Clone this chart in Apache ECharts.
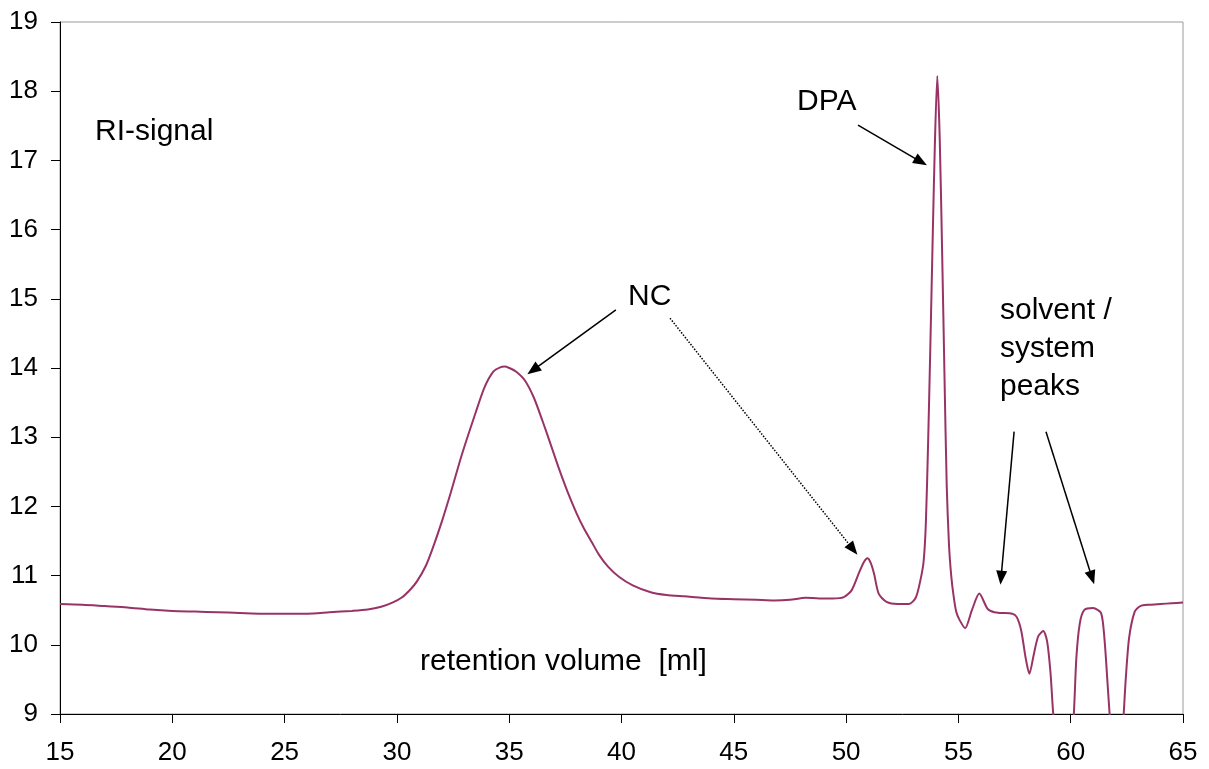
<!DOCTYPE html>
<html>
<head>
<meta charset="utf-8">
<script src="https://cdn.jsdelivr.net/npm/echarts@6/dist/echarts.min.js"></script>
<style>
html,body{margin:0;padding:0;background:#fff;}
#chart{width:1209px;height:769px;}
</style>
</head>
<body>
<div id="chart"></div>
<script>
// retention volume [ml]
const volume = [15, 16, 17, 18, 19, 20, 21, 22, 23, 24, 25, 26, 27, 28, 28.7, 29.3, 29.8, 30.2, 30.6, 30.9, 31.3, 31.6, 32.0, 32.4, 32.8, 33.1, 33.5, 33.9, 34.3, 34.6, 34.8, 35.0, 35.3, 35.7, 36.1, 36.5, 36.8, 37.2, 37.6, 38.0, 38.3, 38.7, 39.0, 39.4, 39.9, 40.5, 41.3, 42.0, 42.8, 44.0, 45.0, 46.0, 46.8, 47.5, 48.2, 48.8, 49.4, 49.9, 50.25, 50.6, 50.8, 50.95, 51.1, 51.25, 51.45, 51.8, 52.3, 52.8, 53.1, 53.3, 53.45, 53.55, 53.65, 53.75, 53.85, 53.95, 54.06, 54.17, 54.28, 54.38, 54.48, 54.58, 54.68, 54.78, 54.9, 55.05, 55.3, 55.6, 55.93, 56.3, 56.6, 56.9, 57.4, 57.6, 57.8, 58.0, 58.16, 58.35, 58.55, 58.78, 58.95, 59.1, 59.25, 59.7, 60.1, 60.25, 60.4, 60.6, 61.0, 61.35, 61.5, 61.65, 61.8, 62.05, 62.3, 62.45, 62.6, 62.85, 63.1, 63.5, 64.0, 64.5, 65];
// RI-signal
const signal = [10.59, 10.58, 10.56, 10.54, 10.51, 10.49, 10.48, 10.47, 10.46, 10.45, 10.45, 10.45, 10.47, 10.49, 10.51, 10.55, 10.61, 10.68, 10.8, 10.92, 11.15, 11.4, 11.78, 12.2, 12.65, 12.96, 13.35, 13.72, 13.95, 14.01, 14.02, 14.0, 13.95, 13.82, 13.57, 13.22, 12.94, 12.56, 12.21, 11.9, 11.7, 11.47, 11.3, 11.13, 10.98, 10.86, 10.76, 10.72, 10.7, 10.67, 10.66, 10.65, 10.64, 10.65, 10.68, 10.67, 10.67, 10.69, 10.79, 11.06, 11.2, 11.25, 11.18, 11.02, 10.74, 10.62, 10.59, 10.59, 10.68, 10.92, 11.2, 11.75, 12.9, 14.3, 15.8, 17.2, 18.22, 17.3, 15.6, 13.9, 12.3, 11.45, 11.0, 10.72, 10.48, 10.36, 10.24, 10.5, 10.74, 10.52, 10.47, 10.46, 10.45, 10.4, 10.2, 9.8, 9.58, 9.85, 10.12, 10.2, 10.05, 9.6, 8.9, 7.8, 8.8, 9.8, 10.3, 10.5, 10.53, 10.46, 10.1, 9.4, 8.7, 7.9, 8.7, 9.5, 10.1, 10.48, 10.56, 10.58, 10.59, 10.6, 10.61];

const xTicks = [15, 20, 25, 30, 35, 40, 45, 50, 55, 60, 65];
const yTicks = [9, 10, 11, 12, 13, 14, 15, 16, 17, 18, 19];

// annotation arrows: [fromX, fromY, toX, toY, dotted]
const arrowDPA = [50.53, 17.51, 53.33, 16.98, 0];
const arrowNC1 = [39.75, 14.84, 36.06, 13.97, 0];
const arrowNC2 = [42.16, 14.72, 50.31, 11.38, 1];
const arrowSolv1 = [57.48, 13.08, 56.90, 10.97, 0];
const arrowSolv2 = [58.90, 13.08, 60.95, 10.97, 0];
const arrows = [arrowDPA, arrowNC1, arrowNC2, arrowSolv1, arrowSolv2];

const points = volume.map((v, i) => [v, signal[i]]);
const FONT = '"Liberation Sans", Arial, sans-serif';
const ANN = '30px ' + FONT;

const chart = echarts.init(document.getElementById('chart'));
chart.setOption({
  animation: false,
  backgroundColor: '#fff',
  grid: {left: 60, right: 26, top: 22, bottom: 55, show: true, borderColor: '#9a9a9a', borderWidth: 1},
  xAxis: {
    type: 'value', min: xTicks[0], max: xTicks[xTicks.length - 1], interval: 5,
    axisLine: {lineStyle: {color: '#000', width: 1}},
    axisTick: {show: true, inside: false, length: 9, lineStyle: {color: '#000'}},
    axisLabel: {color: '#000', fontSize: 26, fontFamily: FONT, margin: 26},
    splitLine: {show: false}
  },
  yAxis: {
    type: 'value', min: yTicks[0], max: yTicks[yTicks.length - 1], interval: 1,
    axisLine: {show: true, lineStyle: {color: '#000', width: 1}},
    axisTick: {show: true, inside: false, length: 9, lineStyle: {color: '#000'}},
    axisLabel: {color: '#000', fontSize: 26, fontFamily: FONT, margin: 22},
    splitLine: {show: false}
  },
  series: [{
    type: 'line',
    data: points,
    showSymbol: false,
    smooth: 0.25,
    clip: true,
    lineStyle: {color: '#993366', width: 2},
    markLine: {
      silent: true,
      symbol: ['none', 'triangle'],
      symbolSize: [11, 14],
      label: {show: false},
      emphasis: {disabled: true},
      data: arrows.map(a => [
        {coord: [a[0], a[1]], lineStyle: {color: '#000', width: 1.5, type: a[4] ? 'dotted' : 'solid'}, itemStyle: {color: '#000'}},
        {coord: [a[2], a[3]]}
      ])
    }
  }],
  graphic: [
    {type: 'text', left: 95, top: 117, style: {text: 'RI-signal', font: ANN, fill: '#000'}},
    {type: 'text', left: 628, top: 282, style: {text: 'NC', font: ANN, fill: '#000'}},
    {type: 'text', left: 797, top: 87, style: {text: 'DPA', font: ANN, fill: '#000'}},
    {type: 'text', left: 1000, top: 292, style: {text: 'solvent /\nsystem\npeaks', font: ANN, fill: '#000', lineHeight: 38}},
    {type: 'text', left: 420, top: 647, style: {text: 'retention volume  [ml]', font: ANN, fill: '#000'}}
  ]
});
</script>
</body>
</html>
